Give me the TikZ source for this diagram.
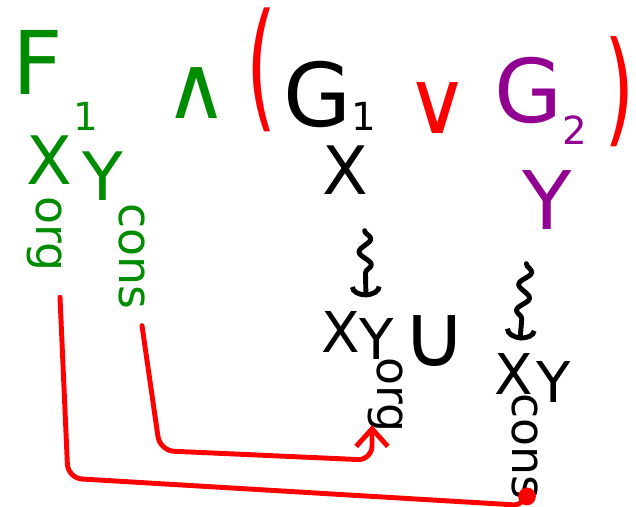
\documentclass[tikz,border=0pt]{standalone}
\usepackage{fontspec}
\setmainfont{DejaVu Sans}
\usetikzlibrary{arrows.meta,decorations.pathmorphing}
\definecolor{pengreen}{RGB}{0,140,0}
\definecolor{penred}{RGB}{255,0,0}
\definecolor{penpurple}{RGB}{145,0,145}
\newcommand{\lowsub}[2]{\raisebox{-#1}{\fontsize{11}{11}\selectfont #2}}
\tikzset{
  toprow/.style={inner sep=0pt, anchor=base west, font=\fontsize{25}{25}\selectfont},
  midrow/.style={inner sep=0pt, anchor=base west, font=\fontsize{19}{19}\selectfont},
  lowrow/.style={inner sep=0pt, anchor=base west, font=\fontsize{16}{16}\selectfont},
  paren/.style={inner sep=0pt, penred, font=\fontsize{22}{22}\selectfont},
  vsub/.style={inner sep=0pt, rotate=-90, font=\fontsize{13}{13}\selectfont},
  link/.style={penred, line width=1.4pt, rounded corners=4pt},
  squig/.style={line width=1.4pt, decorate, decoration={snake, amplitude=0.6mm, segment length=2.6mm, post length=2mm}, -{Arc Barb[length=3pt,width=9pt]}}
}
\begin{document}
\begin{tikzpicture}[x=0.01cm, y=-0.01cm, line join=round, line cap=round]
	\useasboundingbox (0,0) rectangle (636,507);
	\node[toprow, pengreen] (f1) at (12,95) {F\hspace{3pt}\lowsub{10pt}{1}};
	\node[toprow, pengreen] (and) at (164,119) {∧};
	\node[paren] (lpar) at (262,70) {\scalebox{1}[1.8]{(}};
	\node[toprow] (g1) at (283,127) {G\lowsub{1pt}{1}};
	\node[toprow, penred] (or) at (405,134) {∨};
	\node[toprow, penpurple] (g2) at (494,123) {G\lowsub{6pt}{2}};
	\node[paren] (rpar) at (620,92) {\scalebox{1}[1.6]{)}};
	\node[midrow, pengreen] (xf) at (26,185) {X};
	\node[midrow, pengreen] (yf) at (82,201) {Y};
	\node[vsub, pengreen] (orgf) at (45,234) {org};
	\node[vsub, pengreen] (consf) at (132,256) {cons};
	\node[midrow] (xg) at (322,195) {X};
	\node[midrow, penpurple, font=\fontsize{23}{23}\selectfont] (yg) at (522,230) {Y};
	\node[lowrow] (xo) at (321,353) {X};
	\node[lowrow] (yo) at (359,360) {Y};
	\node[vsub] (orgo) at (386,395) {org};
	\node[lowrow, font=\fontsize{25}{25}\selectfont] (cup) at (402,367) {∪};
	\node[lowrow] (xc) at (494,395) {X};
	\node[lowrow] (yc) at (536,403) {Y};
	\node[vsub] (consc) at (525,446) {cons};
	\draw[squig] ([shift={(19,35)}]xg.south) -- ([shift={(25,-14)}]xo.north);
	\draw[squig] ([shift={(-21,33)}]yg.south) -- ([shift={(6,-13)}]xc.north);
	\draw[link, -{Circle[length=5pt]}] ([shift={(15,25)}]orgf.east) -- ++(8,181) -- ([shift={(2,6)}]consc.east) -- ([shift={(2,-12)}]consc.east);
	\draw[link, -{Straight Barb[length=5pt,width=9pt]}] ([shift={(10,16)}]consf.east) -- ++(18,125) -- ([shift={(-14,27)}]orgo.east) -- ([shift={(-14,-8)}]orgo.east);
\end{tikzpicture}
\end{document}
